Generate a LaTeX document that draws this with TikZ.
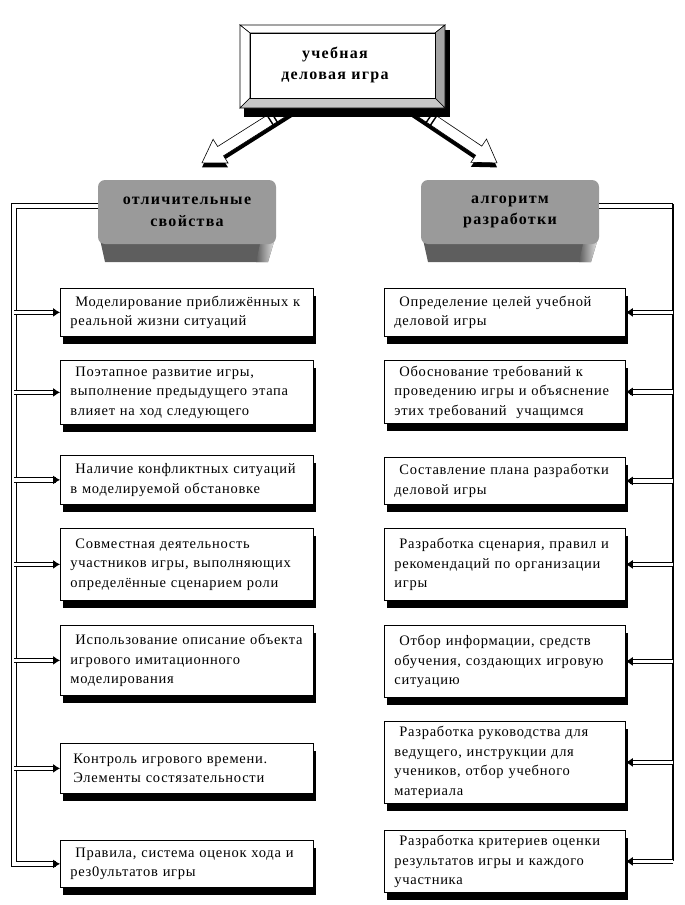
\documentclass[tikz,border=0pt]{standalone}
\usepackage{fontspec}
\setmainfont{Liberation Serif}[LetterSpace=5]
\usepackage{tikz}
\usetikzlibrary{calc,arrows.meta,shadows}

\definecolor{facegray}{HTML}{9A9A9A}
\definecolor{slabgray}{HTML}{5E5E5E}
\definecolor{bevelgray}{HTML}{A4A4A4}
\definecolor{bevellight}{HTML}{C8C8C8}

\newcommand{\boxfont}{\fontsize{14.5}{19.5}\selectfont}
\newcommand{\hdfont}{\fontsize{16}{21.5}\selectfont\bfseries\addfontfeatures{LetterSpace=8}}

% hollow block arrow: start, angle, length
\newcommand{\bigarrow}[3]{%
  \begin{scope}[shift={(#1)}, yshift=-4.5pt, rotate=#2]
    \fill (0,-5.5) -- (#3-22,-5.5) -- (#3-22,-14) -- (#3,0) -- (#3-22,14) -- (#3-22,5.5) -- (0,5.5) -- cycle;
  \end{scope}
  \begin{scope}[shift={(#1)}, rotate=#2]
    \filldraw[fill=white, line width=0.6pt] (0,-5.5) -- (#3-22,-5.5) -- (#3-22,-14) -- (#3,0) -- (#3-22,14) -- (#3-22,5.5) -- (0,5.5) -- cycle;
    \draw[line width=1.4pt] (21,-7) -- (21,7) (26,-7) -- (26,7);
  \end{scope}}

\begin{document}
\begin{tikzpicture}[x=1pt, y=-1pt,
  itembox/.style={draw, fill=white, line width=0.8pt, anchor=north west, align=left,
    inner xsep=10pt, inner ysep=2pt, font=\boxfont,
    drop shadow={shadow xshift=3pt, shadow yshift=-8pt, opacity=1, fill=black}},
  itemL/.style={itembox, text width=233pt},
  itemR/.style={itembox, text width=221pt},
  headbox/.style={fill=facegray, rounded corners=7pt, minimum width=178pt,
    minimum height=64pt, align=center, font=\hdfont, inner sep=0pt},
  dbl/.style={double, double distance=3.2pt, line width=1pt},
  tipfill/.style={line width=1pt, -{Latex[length=7pt,width=9pt]}}]

\useasboundingbox (0,0) rectangle (685,905);

% arrows from the title
\bigarrow{292,106}{212.3}{106.5}
\bigarrow{412,106}{-33.8}{102.3}

% title box
\fill (244,30) rectangle (450,117);
\filldraw[fill=white, line width=0.6pt] (240,25) -- (445,25) -- (435,33) -- (250,33) -- cycle;
\filldraw[fill=white, line width=0.6pt] (240,25) -- (250,33) -- (250,98) -- (240,108) -- cycle;
\filldraw[fill=bevelgray, line width=0.6pt] (445,25) -- (445,108) -- (435,98) -- (435,33) -- cycle;
\filldraw[fill=bevellight, line width=0.6pt] (240,108) -- (445,108) -- (435,98) -- (250,98) -- cycle;
\filldraw[fill=white, line width=0.6pt] (250,33) rectangle (435,98);
\node[align=center, font=\hdfont] (top) at (335,65) {учебная\\деловая игра};

% header boxes
\fill[slabgray] (99,235) -- (276,235) -- (268,262) -- (105,262) -- cycle;
\shade[left color=slabgray, right color=gray!15] (262,235) -- (276,235) -- (268,262) -- (256,262) -- cycle;
\node[headbox] (hL) at (187,212) {отличительные\\свойства};

\fill[slabgray] (422,235) -- (599,235) -- (591,262) -- (428,262) -- cycle;
\shade[left color=slabgray, right color=gray!15] (585,235) -- (599,235) -- (591,262) -- (579,262) -- cycle;
\node[headbox] (hR) at (510,212) {алгоритм\\разработки};

% left column
\node[itemL, minimum height=48pt] (L1) at (60,288) {\hspace*{5pt}Моделирование приближённых к\\реальной жизни ситуаций};
\node[itemL, minimum height=64pt] (L2) at (60,360) {\hspace*{5pt}Поэтапное развитие игры,\\выполнение предыдущего этапа\\влияет на ход следующего};
\node[itemL, minimum height=49pt] (L3) at (60,455) {\hspace*{5pt}Наличие конфликтных ситуаций\\в моделируемой обстановке};
\node[itemL, minimum height=72pt] (L4) at (60,528) {\hspace*{5pt}Совместная деятельность\\участников игры, выполняющих\\определённые сценарием роли};
\node[itemL, minimum height=70pt] (L5) at (60,625) {\hspace*{5pt}Использование описание объекта\\игрового имитационного\\моделирования};
\node[itemL, minimum height=50pt] (L6) at (60,743) {\hspace*{3pt}Контроль игрового времени.\\\hspace*{3pt}Элементы состязательности};
\node[itemL, minimum height=47pt] (L7) at (60,840) {\hspace*{5pt}Правила, система оценок хода и\\рез0ультатов игры};

% right column
\node[itemR, minimum height=48pt] (R1) at (384,288) {\hspace*{5pt}Определение целей учебной\\деловой игры};
\node[itemR, minimum height=63pt] (R2) at (384,360) {\hspace*{5pt}Обоснование требований к\\проведению игры и объяснение\\этих требований\ \ учащимся};
\node[itemR, minimum height=47pt] (R3) at (384,457) {\hspace*{5pt}Составление плана разработки\\деловой игры};
\node[itemR, minimum height=72pt] (R4) at (384,528) {\hspace*{5pt}Разработка сценария, правил и\\рекомендаций по организации\\игры};
\node[itemR, minimum height=72pt] (R5) at (384,625) {\hspace*{5pt}Отбор информации, средств\\обучения, создающих игровую\\ситуацию};
\node[itemR, minimum height=82pt] (R6) at (384,721) {\hspace*{5pt}Разработка руководства для\\ведущего, инструкции для\\учеников, отбор учебного\\материала};
\node[itemR, minimum height=62pt] (R7) at (384,830) {\hspace*{5pt}Разработка критериев оценки\\результатов игры и каждого\\участника};

% trunks
\coordinate (tL) at (14,0);
\coordinate (tR) at (673,0);

\draw[dbl, shorten >=4pt] ([yshift=6pt]hL.west) -| (L7.west -| tL) -- (L7.west);
\draw[tipfill] ([xshift=-7pt]L7.west) -- (L7.west);
\foreach \i in {1,...,6} {
  \draw[dbl, shorten >=4pt] (L\i.west -| tL) -- (L\i.west);
  \draw[tipfill] ([xshift=-7pt]L\i.west) -- (L\i.west);
}

\draw[dbl] ([yshift=6pt]hR.east) -- ([yshift=6pt]hR.east -| tR);
\draw[line width=2pt] ([yshift=8pt]hR.east -| tR) -- (R7.east -| tR);
\foreach \i in {1,...,7} {
  \draw[dbl, shorten >=4pt] (R\i.east -| tR) -- (R\i.east);
  \draw[tipfill] ([xshift=7pt]R\i.east) -- (R\i.east);
}

\end{tikzpicture}
\end{document}
